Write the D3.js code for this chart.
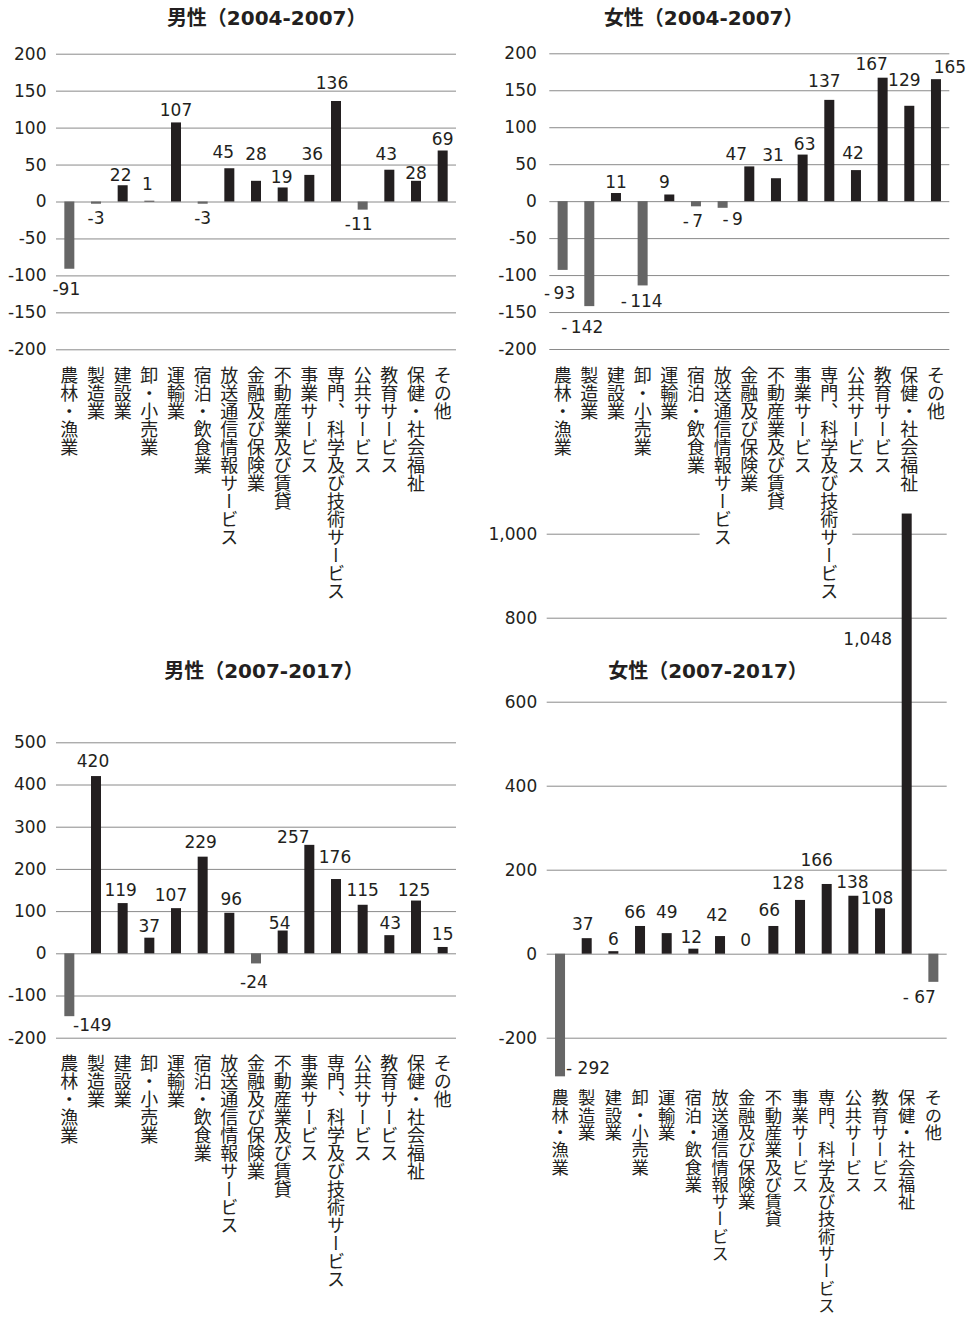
<!DOCTYPE html>
<html>
<head>
<meta charset="utf-8">
<script src="https://cdn.jsdelivr.net/npm/d3@7"></script>
<style>
  body { margin: 0; background: #fff; }
  svg text { font-family: "DejaVu Sans", "Noto Sans CJK JP", sans-serif; fill: #231f20; }
</style>
</head>
<body>
<svg id="chart" width="971" height="1324"></svg>
<script>
// Industry categories (shared by all four panels)
const industries = [
  "農林・漁業", "製造業", "建設業", "卸・小売業", "運輸業", "宿泊・飲食業",
  "放送通信情報サービス", "金融及び保険業", "不動産業及び賃貸", "事業サービス",
  "専門、科学及び技術サービス", "公共サービス", "教育サービス", "保健・社会福祉", "その他"
];

// Employment change by industry
const men0407   = [-91, -3, 22, 1, 107, -3, 45, 28, 19, 36, 136, -11, 43, 28, 69];
const women0407 = [-93, -142, 11, -114, 9, -7, -9, 47, 31, 63, 137, 42, 167, 129, 165];
const men0717   = [-149, 420, 119, 37, 107, 229, 96, -24, 54, 257, 176, 115, 43, 125, 15];
const women0717 = [-292, 37, 6, 66, 49, 12, 42, 0, 66, 128, 166, 138, 108, 1048, -67];

// Axis ticks
const ticks0407      = [-200, -150, -100, -50, 0, 50, 100, 150, 200];
const ticksMen0717   = [-200, -100, 0, 100, 200, 300, 400, 500];
const ticksWomen0717 = [-200, 0, 200, 400, 600, 800, 1000];

// Panel titles
const titleMen0407   = "男性（2004-2007）";
const titleWomen0407 = "女性（2004-2007）";
const titleMen0717   = "男性（2007-2017）";
const titleWomen0717 = "女性（2007-2017）";

// Hand-placed value-label nudges (px) so neighbouring labels don't collide
const nudgeMen0407   = { dx: [-3,0,-2,-2,0,0,-6,0,-1,3,-4,-4,-3,0,0],   dy: [6,0,2,-5,0,0,-4,-15,2,-9,-6,0,-4,4,0] };
const nudgeWomen0407 = { dx: [-3,-7,0,-1,-5,-3,10,-13,-3,2,-5,-3,-11,-5,14], dy: [9,7,1,2,0,1,-3,0,-11,1,-7,-5,-2,-14,0] };
const nudgeMen0717   = { dx: [23,-3,-2,0,-5,-2,2,-2,-3,-16,-1,0,1,-2,0], dy: [-5,-3,-1,0,-1,-3,-2,5,4,4,-10,-3,0,1,-1] };
const nudgeWomen0717 = { dx: [28,-4,0,-5,0,-2,-3,-1,-4,-12,-10,-1,-3,-39,-14], dy: [-22,-2,0,-2,-9,0,-9,-2,-4,-5,-12,-2,2,137,1] };

const POS = "#231f20", NEG = "#666666", GRID = "#8a8a8a";
const svg = d3.select("#chart");

const locale = d3.formatLocale({ decimal: ".", thousands: ",", grouping: [3], currency: ["", ""], minus: "-" });
const fmtTick = locale.format(",");

function panel(root, cfg) {
  const g = root.append("g");
  const x = d3.scaleBand().domain(industries).range([cfg.x0, cfg.x1])
    .paddingInner(0.625).paddingOuter(0.3125);
  const y = d3.scaleLinear().domain(cfg.domain).range(cfg.range);

  // title
  g.append("text")
    .attr("x", cfg.titleX).attr("y", cfg.titleY)
    .attr("text-anchor", "middle")
    .style("font-weight", "bold").style("font-size", "20px")
    .text(cfg.title);

  // horizontal gridlines + tick labels via a left axis
  const axis = d3.axisLeft(y).tickValues(cfg.ticks).tickFormat(fmtTick)
    .tickSize(-(cfg.x1 - cfg.x0)).tickPadding(cfg.tickGap);
  const ax = g.append("g").attr("transform", `translate(${cfg.x0},0)`).call(axis);
  ax.select(".domain").remove();
  ax.selectAll(".tick line").attr("stroke", GRID).attr("stroke-width", 1);
  ax.selectAll(".tick text").style("font-size", "17px").attr("fill", "#231f20")
    .style("font-family", '"DejaVu Sans", sans-serif');

  // bars
  g.append("g").selectAll("rect").data(cfg.values).join("rect")
    .attr("x", (d, i) => x(industries[i]))
    .attr("width", x.bandwidth())
    .attr("y", d => y(Math.max(0, d)))
    .attr("height", d => Math.abs(y(d) - y(0)))
    .attr("fill", d => d < 0 ? NEG : POS);

  // value labels
  g.append("g").selectAll("text").data(cfg.values).join("text")
    .attr("text-anchor", "middle")
    .attr("x", (d, i) => x(industries[i]) + x.bandwidth() / 2 + cfg.nudge.dx[i])
    .attr("y", (d, i) => {
      const c = d < 0 ? y(d) + 14 : y(d) - 12;
      return c + cfg.nudge.dy[i] + 6;
    })
    .style("font-size", "17px")
    .text(d => d < 0 ? "-" + cfg.minusGap + fmtTick(-d) : fmtTick(d));

  // category labels (vertical)
  const labelTop = y(cfg.domain[0]) + cfg.labelOffset;
  const backing = g.append("g");
  const labs = g.append("g").selectAll("text").data(industries).join("text")
    .attr("x", d => x(d) + x.bandwidth() / 2)
    .attr("y", labelTop)
    .style("writing-mode", "vertical-rl")
    .style("font-family", '"Noto Sans CJK JP", sans-serif')
    .style("font-size", cfg.labelSize + "px")
    .attr("fill", "#2a2a2a")
    .text(d => d);

  // labels that run down into the panel below get an opaque backing
  if (cfg.coverBelow != null) {
    const boxes = labs.nodes().map(n => n.getBBox()).filter(b => b.y + b.height > cfg.coverBelow);
    if (boxes.length) {
      const minX = d3.min(boxes, b => b.x), maxX = d3.max(boxes, b => b.x + b.width);
      const maxY = d3.max(boxes, b => b.y + b.height);
      backing.append("rect")
        .attr("x", minX - 10).attr("width", maxX - minX + 20)
        .attr("y", labelTop).attr("height", maxY - labelTop + 2)
        .attr("fill", "#fff");
    }
  }
  return { x, y };
}

// lower-right panel first: the upper-right panel's labels sit over its top
const pW17 = panel(svg, {
  title: titleWomen0717, values: women0717, ticks: ticksWomen0717, nudge: nudgeWomen0717,
  x0: 546.7, x1: 946.7, domain: [-300, 1000], range: [1079.7, 533.7],
  titleX: 708, titleY: 678, tickGap: 9.5, labelOffset: 9.5, labelSize: 17.3, minusGap: " "
});
panel(svg, {
  title: titleMen0407, values: men0407, ticks: ticks0407, nudge: nudgeMen0407,
  x0: 56, x1: 456, domain: [-200, 200], range: [349.3, 53.7],
  titleX: 266.7, titleY: 25, tickGap: 9.5, labelOffset: 16.5, labelSize: 18, minusGap: ""
});
panel(svg, {
  title: titleWomen0407, values: women0407, ticks: ticks0407, nudge: nudgeWomen0407,
  x0: 549.3, x1: 949.3, domain: [-200, 200], range: [349, 53.3],
  titleX: 703.7, titleY: 25, tickGap: 12.5, labelOffset: 17, labelSize: 18, minusGap: "\u2009",
  coverBelow: pW17.y(1000)
});
panel(svg, {
  title: titleMen0717, values: men0717, ticks: ticksMen0717, nudge: nudgeMen0717,
  x0: 56, x1: 456, domain: [-200, 500], range: [1037.7, 742.3],
  titleX: 264, titleY: 678, tickGap: 9.5, labelOffset: 16.3, labelSize: 18, minusGap: ""
});
</script>
</body>
</html>
